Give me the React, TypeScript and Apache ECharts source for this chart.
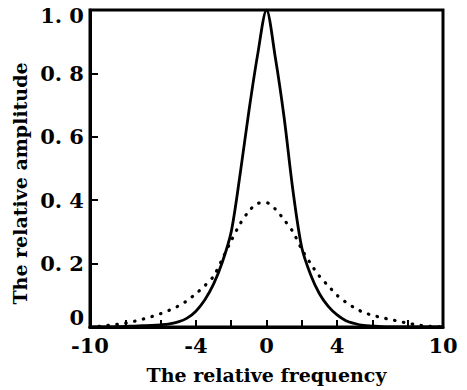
import React, { useEffect, useRef } from 'react';
import * as echarts from 'echarts';

const xs = [
  -10, -9.5, -9, -8.5, -8, -7.5, -7, -6.5, -6, -5.5, -5, -4.5, -4, -3.5, -3, -2.5, -2, -1.5, -1, -0.5,
  0, 0.5, 1, 1.5, 2, 2.5, 3, 3.5, 4, 4.5, 5, 5.5, 6, 6.5, 7, 7.5, 8, 8.5, 9, 9.5, 10,
];

const solidAmp = [
  0, 0, 0, 0.001, 0.002, 0.003, 0.004, 0.005, 0.007, 0.01, 0.016, 0.028, 0.05, 0.085, 0.135, 0.205, 0.3, 0.48, 0.68, 0.86,
  1.0, 0.85, 0.66, 0.43, 0.25, 0.165, 0.105, 0.065, 0.038, 0.02, 0.011, 0.005, 0.003, 0.001, 0, 0, 0, 0, 0, 0, 0,
];

const dottedAmp = [
  0, 0.002, 0.005, 0.008, 0.012, 0.018, 0.025, 0.033, 0.042, 0.053, 0.066, 0.083, 0.105, 0.13, 0.16, 0.215, 0.272, 0.325, 0.365, 0.39,
  0.392, 0.372, 0.338, 0.3, 0.245, 0.2, 0.16, 0.13, 0.1, 0.078, 0.06, 0.046, 0.037, 0.03, 0.024, 0.018, 0.012, 0.007, 0.003, 0.001, 0,
];

const xTickLabels = [-10, -4, 0, 4, 10];
const yTickLabels = ['0', '0. 2', '0. 4', '0. 6', '0. 8', '1. 0'];

const FONT = 'DejaVu Serif';

export default function App() {
  const ref = useRef<HTMLDivElement>(null);

  useEffect(() => {
    document.body.style.margin = '0';
    if (!ref.current) return;
    const chart = echarts.init(ref.current, null, { renderer: 'svg' });
    const labelStyle = { fontFamily: FONT, fontWeight: 'bold', fontSize: 21, color: '#000' };
    chart.setOption({
      animation: false,
      backgroundColor: '#ffffff',
      grid: {
        left: 90,
        right: 24,
        top: 10,
        bottom: 63,
        show: true,
        borderColor: '#000',
        borderWidth: 3,
        backgroundColor: 'transparent',
      },
      xAxis: {
        type: 'value',
        min: -10,
        max: 10,
        interval: 2,
        name: 'The relative frequency',
        nameLocation: 'middle',
        nameGap: 38,
        nameTextStyle: { fontFamily: FONT, fontWeight: 'bold', fontSize: 19, color: '#000' },
        axisLine: { show: true, onZero: false, lineStyle: { color: '#000', width: 3 } },
        axisTick: { show: true, inside: true, length: 7, lineStyle: { color: '#000', width: 2 } },
        splitLine: { show: false },
        axisLabel: {
          ...labelStyle,
          margin: 8,
          formatter: (v: number) => (xTickLabels.includes(v) ? String(v) : ''),
        },
      },
      yAxis: {
        type: 'value',
        min: 0,
        max: 1,
        interval: 0.2,
        name: 'The relative amplitude',
        nameLocation: 'middle',
        nameGap: 56,
        nameTextStyle: {
          fontFamily: FONT,
          fontWeight: 'bold',
          fontSize: 19,
          color: '#000',
          padding: [0, 30, 0, 0],
        },
        axisLine: { show: true, onZero: false, lineStyle: { color: '#000', width: 3 } },
        axisTick: { show: true, inside: true, length: 8, lineStyle: { color: '#000', width: 2 } },
        splitLine: { show: false },
        axisLabel: {
          ...labelStyle,
          margin: 6,
          formatter: (v: number) => {
            const i = Math.round(v / 0.2);
            const t = yTickLabels[i] ?? '';
            if (i === 0) return '{lo|' + t + '}';
            if (i === 5) return '{hi|' + t + '}';
            return t;
          },
          rich: {
            lo: { ...labelStyle, padding: [0, 0, 20, 0] },
            hi: { ...labelStyle, padding: [10, 0, 0, 0] },
          },
        },
      },
      series: [
        {
          type: 'line',
          data: xs.map((x, i) => [x, solidAmp[i]]),
          showSymbol: false,
          smooth: 0.3,
          lineStyle: { color: '#000', width: 2.8 },
        },
        {
          type: 'line',
          data: xs.map((x, i) => [x, dottedAmp[i]]),
          showSymbol: false,
          smooth: 0.3,
          lineStyle: { color: '#000', width: 3.2, type: [0.5, 8.5], cap: 'round' },
        },
      ],
    });
    return () => chart.dispose();
  }, []);

  return <div ref={ref} style={{ width: 467, height: 390 }} />;
}
